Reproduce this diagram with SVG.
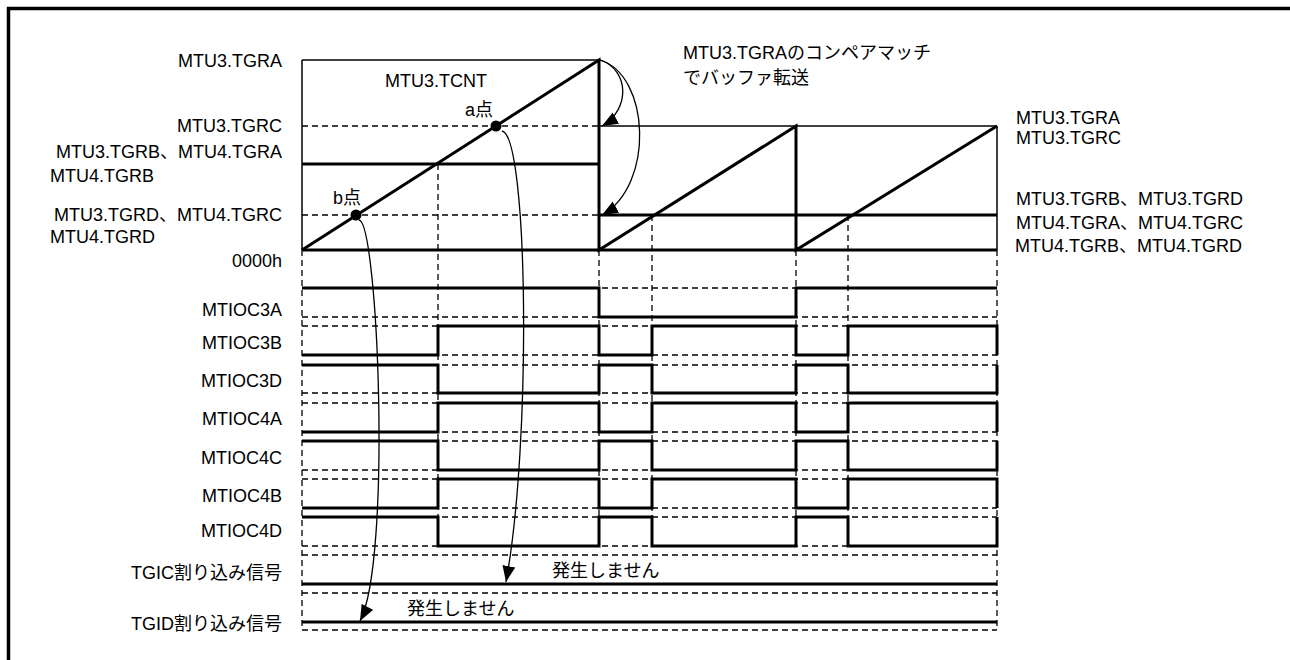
<svg xmlns="http://www.w3.org/2000/svg" width="1290" height="660" viewBox="0 0 1290 660">
<style>
text{font-family:"Liberation Sans","Noto Sans CJK JP",sans-serif;font-size:18px;fill:#000}
.r{text-anchor:end}
.thick{stroke:#000;stroke-width:3;fill:none}
.thin{stroke:#000;stroke-width:1.5;fill:none}
.dash{stroke:#000;stroke-width:1.3;stroke-dasharray:6 4;fill:none}
.curve{stroke:#000;stroke-width:1.3;fill:none;marker-end:url(#arr)}
</style>
<defs>
<marker id="arr" markerUnits="userSpaceOnUse" markerWidth="16" markerHeight="14" refX="16" refY="7" orient="auto">
<path d="M0,0.5 L16,7 L0,13.5 z" fill="#000"/>
</marker>
</defs>
<rect width="1290" height="660" fill="#fff"/>
<g id="frame">
<line x1="7" y1="8.5" x2="1290" y2="8.5" stroke="#000" stroke-width="3.5"/>
<line x1="8.5" y1="7" x2="8.5" y2="660" stroke="#000" stroke-width="3.5"/>
</g>
<g id="axis-labels">
<text class="r" x="282" y="67">MTU3.TGRA</text>
<text class="r" x="282" y="132">MTU3.TGRC</text>
<text class="r" x="282" y="158">MTU3.TGRB、MTU4.TGRA</text>
<text x="50" y="182">MTU4.TGRB</text>
<text class="r" x="282" y="221">MTU3.TGRD、MTU4.TGRC</text>
<text x="50" y="243">MTU4.TGRD</text>
<text class="r" x="282" y="267">0000h</text>
<text x="1016" y="124">MTU3.TGRA</text>
<text x="1016" y="144">MTU3.TGRC</text>
<text x="1016" y="205">MTU3.TGRB、MTU3.TGRD</text>
<text x="1016" y="229">MTU4.TGRA、MTU4.TGRC</text>
<text x="1015" y="252">MTU4.TGRB、MTU4.TGRD</text>
<text x="683" y="59">MTU3.TGRAのコンペアマッチ</text>
<text x="683" y="84">でバッファ転送</text>
<text x="385" y="87">MTU3.TCNT</text>
<text x="465" y="116">a点</text>
<text x="333" y="204">b点</text>
</g>
<g id="counter">
<line class="thin" x1="302" y1="60" x2="599" y2="60"/>
<line class="thin" x1="302" y1="60" x2="302" y2="250"/>
<line class="dash" x1="302" y1="126" x2="599" y2="126"/>
<line class="thin" x1="599" y1="126" x2="997" y2="126"/>
<line class="thick" x1="302" y1="164" x2="599" y2="164"/>
<line class="dash" x1="302" y1="215" x2="599" y2="215"/>
<line class="thick" x1="599" y1="215" x2="997" y2="215"/>
<line class="thick" x1="302" y1="250" x2="997" y2="250"/>
<path class="thick" d="M302,250 L599,60 L599,250 L796,126 L796,250 L997,126"/>
<line class="thin" x1="997" y1="126" x2="997" y2="250"/>
<circle cx="496" cy="126" r="5.5" fill="#000"/>
<circle cx="356" cy="215" r="5.5" fill="#000"/>
</g>
<g id="guides">
<line class="dash" x1="302" y1="250" x2="302" y2="630"/>
<line class="dash" x1="997" y1="250" x2="997" y2="630"/>
<line class="dash" x1="599" y1="250" x2="599" y2="546"/>
<line class="dash" x1="796" y1="250" x2="796" y2="546"/>
<line class="dash" x1="438" y1="164" x2="438" y2="546"/>
<line class="dash" x1="652" y1="215" x2="652" y2="546"/>
<line class="dash" x1="848" y1="215" x2="848" y2="546"/>
<path class="dash" d="M302,288H997M302,317H997M302,326H997M302,355H997M302,365H997M302,393H997M302,403H997M302,432H997M302,441H997M302,470H997M302,479H997M302,508H997M302,517H997M302,546H997M302,555H997M302,593H997M302,630H997"/>
</g>
<g id="signal-labels">
<text class="r" x="282" y="316">MTIOC3A</text>
<text class="r" x="282" y="349">MTIOC3B</text>
<text class="r" x="282" y="387">MTIOC3D</text>
<text class="r" x="282" y="425">MTIOC4A</text>
<text class="r" x="282" y="464">MTIOC4C</text>
<text class="r" x="282" y="502">MTIOC4B</text>
<text class="r" x="282" y="537">MTIOC4D</text>
<text class="r" x="282" y="579">TGIC割り込み信号</text>
<text class="r" x="282" y="630">TGID割り込み信号</text>
<text x="552" y="577">発生しません</text>
<text x="407" y="615">発生しません</text>
</g>
<g id="waveforms">
<path id="w3A" class="thick" d="M302,288H599V317H796V288H997"/>
<path id="w3B" class="thick" d="M302,355H438V326H599V355H652V326H796V355H848V326H997V355"/>
<path id="w3D" class="thick" d="M302,365H438V393H599V365H652V393H796V365H848V393H997V365"/>
<path id="w4A" class="thick" d="M302,432H438V403H599V432H652V403H796V432H848V403H997V432"/>
<path id="w4C" class="thick" d="M302,441H438V470H599V441H652V470H796V441H848V470H997V441"/>
<path id="w4B" class="thick" d="M302,508H438V479H599V508H652V479H796V508H848V479H997V508"/>
<path id="w4D" class="thick" d="M302,517H438V546H599V517H652V546H796V517H848V546H997V517"/>
<path id="wTGIC" class="thick" d="M302,584H997"/>
<path id="wTGID" class="thick" d="M302,622H997"/>
</g>
<g id="connectors">
<path class="curve" d="M600,60 C630,70 630,110 602,126"/>
<path class="curve" d="M600,60 C650,75 655,185 602,215"/>
<path class="curve" d="M502,131 C528,135 532,440 506,582"/>
<path class="curve" d="M359,220 C378,222 392,560 360,621"/>
</g>
</svg>
